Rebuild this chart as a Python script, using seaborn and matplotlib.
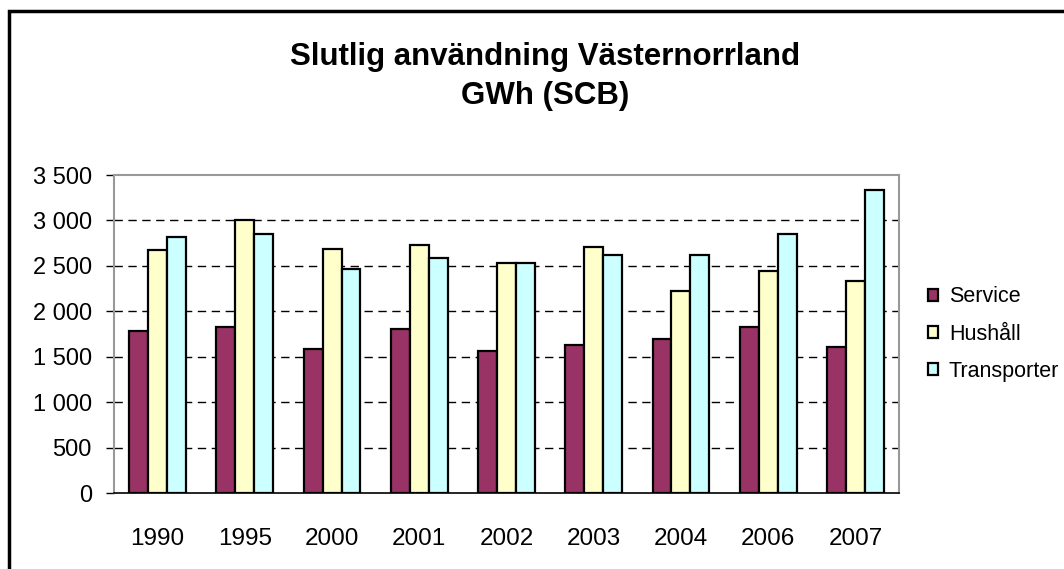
import pandas as pd
import matplotlib
matplotlib.use("Agg")
import matplotlib.pyplot as plt
from matplotlib.ticker import FixedLocator, FuncFormatter
from matplotlib.patches import Rectangle
import seaborn as sns

years = ["1990", "1995", "2000", "2001", "2002", "2003", "2004", "2006", "2007"]
service = [1784, 1828, 1589, 1806, 1563, 1629, 1699, 1828, 1607]
hushall = [2672, 3000, 2691, 2731, 2532, 2713, 2226, 2447, 2337]
transporter = [2823, 2846, 2470, 2584, 2532, 2624, 2624, 2846, 3332]
series_names = ["Service", "Hushåll", "Transporter"]
colors = ["#993366", "#FFFFCC", "#CCFFFF"]

df = pd.DataFrame({"year": years, "Service": service,
                   "Hushåll": hushall, "Transporter": transporter})
long_df = df.melt(id_vars="year", var_name="serie", value_name="gwh")

sns.set_style("white")
plt.rcParams["font.family"] = ["Liberation Sans", "DejaVu Sans"]
plt.rcParams["text.color"] = "black"
plt.rcParams["xtick.color"] = "black"
plt.rcParams["ytick.color"] = "black"

fig = plt.figure(figsize=(10.64, 5.69), dpi=100)
ax = fig.add_axes([114 / 1064, 76 / 569, 785 / 1064, 318 / 569])

sns.barplot(data=long_df, x="year", y="gwh", hue="serie",
            hue_order=series_names, palette=colors, width=0.65,
            edgecolor="black", linewidth=1.6, saturation=1, ax=ax)

ax.set_xlim(-0.5, len(years) - 0.5)
ax.set_ylim(0, 3500)
ax.set_yticks(range(0, 3501, 500))
ax.yaxis.set_major_formatter(FuncFormatter(lambda v, p: f"{int(v):,}".replace(",", " ")))
ax.xaxis.set_minor_locator(FixedLocator([i - 0.5 for i in range(len(years) + 1)]))
ax.tick_params(axis="x", which="major", length=0, pad=25, labelsize=17.5)
ax.tick_params(axis="x", which="minor", length=6, width=1, color="black", direction="out")
ax.tick_params(axis="y", length=6, width=1, color="black", direction="out",
               labelsize=17, pad=10, left=True)
ax.set_xlabel("")
ax.set_ylabel("")

for v in range(500, 3001, 500):
    ax.axhline(v, color="black", linestyle=(0, (6, 4)), linewidth=1, zorder=0)

for side in ["top", "right", "left"]:
    ax.spines[side].set_color("#999999")
    ax.spines[side].set_linewidth(1.5)
ax.spines["bottom"].set_color("black")
ax.spines["bottom"].set_linewidth(1.2)

ax.legend(loc="center left", bbox_to_anchor=(1.026, 0.5), frameon=False,
          fontsize=15.5, handlelength=0.47, handleheight=0.47,
          handletextpad=0.5, labelspacing=0.75, borderaxespad=0)

fig.text(0.512, (569 - 65) / 569, "Slutlig användning Västernorrland",
         ha="center", va="baseline", fontsize=22.5, fontweight="bold")
fig.text(0.512, (569 - 104) / 569, "GWh (SCB)",
         ha="center", va="baseline", fontsize=22.5, fontweight="bold")

fig.patches.append(Rectangle((9 / 1064, -0.1), 1.2, 0.1 + (569 - 11) / 569,
                             transform=fig.transFigure, fill=False,
                             edgecolor="black", linewidth=2.5))

fig.savefig("out.png", dpi=100)
